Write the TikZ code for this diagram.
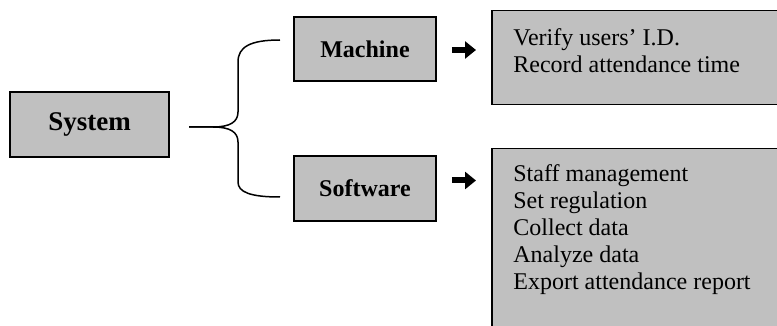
\documentclass[tikz,border=0pt]{standalone}
\usepackage{fontspec}
\setmainfont{Liberation Serif}
\usetikzlibrary{arrows.meta}
\usepackage{xcolor}
\definecolor{boxgray}{RGB}{192,192,192}

\begin{document}
\begin{tikzpicture}[x=0.5pt,y=-0.5pt,
        box/.style={draw,fill=boxgray,line width=0.75pt,inner sep=0pt},
        head/.style={font=\fontsize{12}{14}\selectfont\bfseries},
        list/.style={align=left,inner sep=0pt,font=\fontsize{12}{13.5}\selectfont},
        brace/.style={line width=0.75pt},
        arr/.style={line width=3pt,-{Triangle[length=5.5pt,width=8.5pt]}}]
        \path[use as bounding box,clip] (0,0) rectangle (777,326);
        % boxes
        \node[box,minimum width=79.5pt,minimum height=32.5pt,font=\fontsize{13.5}{16}\selectfont\bfseries] (system) at (89.5,124.5) {System};
        \node[box,head,minimum width=71pt,minimum height=32pt] (machine) at (365,49) {Machine};
        \node[box,head,minimum width=71pt,minimum height=32.5pt] (software) at (365,188.5) {Software};
        \node[box,anchor=north west,minimum width=160pt,minimum height=47pt] (verifybox) at (491,10) {};
        \node[box,anchor=north west,minimum width=160pt,minimum height=100pt] (staffbox) at (491,148) {};
        % texts
        \node[list,anchor=north west] (verifytext) at (513,28) {Verify users' I.D.\\Record attendance time};
        \node[list,anchor=north west] (stafftext) at (513,164) {Staff management\\Set regulation\\Collect data\\Analyze data\\Export attendance report};
        % brace
        \coordinate (bracetip) at (189,127);
        \coordinate (bracetop) at (280,40);
        \coordinate (bracebot) at (280,197);
        \draw[brace] (bracetop) .. controls (250,40) and (238,47) .. (238,62) -- (238,112)
            .. controls (238,122) and (230,127) .. (213,127) -- (bracetip);
        \draw[brace] (bracetip) -- (213,127) .. controls (230,127) and (238,132) .. (238,142)
            -- (238,182) .. controls (238,192) and (250,197) .. (bracebot);
        % arrows
        \draw[arr] ([xshift=7.5pt,yshift=-0.5pt]machine.east) -- ([xshift=-7.5pt,yshift=-0.5pt]machine.east -| verifybox.west);
        \draw[arr] ([xshift=7.5pt,yshift=4pt]software.east) -- ([xshift=-7.5pt,yshift=4pt]software.east -| staffbox.west);
\end{tikzpicture}
\end{document}
